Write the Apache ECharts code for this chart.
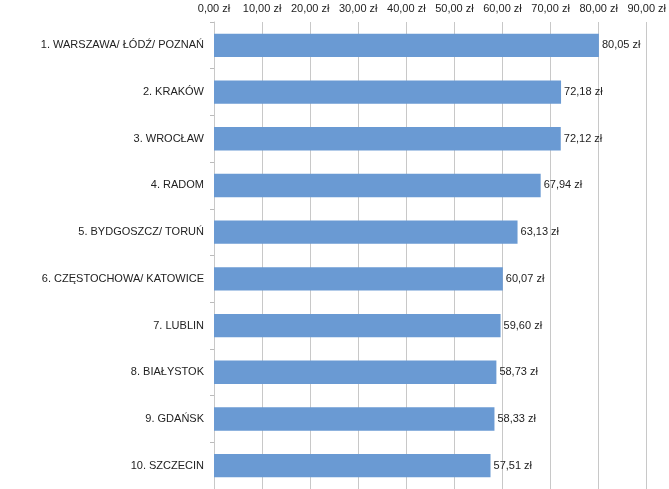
<!DOCTYPE html>
<html>
<head>
<meta charset="utf-8">
<script src="https://cdn.jsdelivr.net/npm/echarts@6/dist/echarts.min.js"></script>
<style>
  html, body { margin: 0; padding: 0; background: #fff; }
  #chart { width: 669px; height: 489px; }
</style>
</head>
<body>
<div id="chart"></div>
<script>
var categories = ['1. WARSZAWA/ ŁÓDŹ/ POZNAŃ', '2. KRAKÓW', '3. WROCŁAW', '4. RADOM', '5. BYDGOSZCZ/ TORUŃ',
  '6. CZĘSTOCHOWA/ KATOWICE', '7. LUBLIN', '8. BIAŁYSTOK', '9. GDAŃSK', '10. SZCZECIN'];
var prices = [80.05, 72.18, 72.12, 67.94, 63.13, 60.07, 59.60, 58.73, 58.33, 57.51];

// format 80.05 -> "80,05 zł"
function zl(v) {
  return v.toFixed(2).replace('.', ',') + ' zł';
}

var myChart = echarts.init(document.getElementById('chart'));
var option = {
  animation: false,
  textStyle: { fontFamily: 'Liberation Sans' },
  grid: {
    left: 214,
    right: 19,
    top: 22,
    bottom: 0
  },
  xAxis: {
    type: 'value',
    position: 'top',
    min: 0,
    max: 90,
    interval: 10,
    axisLine: { show: false },
    axisTick: { show: false },
    axisLabel: {
      color: '#222',
      fontSize: 11,
      margin: 8,
      formatter: zl
    },
    splitLine: { lineStyle: { color: '#c8c8c8', width: 1 } }
  },
  yAxis: {
    type: 'category',
    inverse: true,
    data: categories,
    axisLine: { show: true, lineStyle: { color: '#c8c8c8' } },
    axisTick: { show: true, length: 4, lineStyle: { color: '#bbb' } },
    axisLabel: { color: '#222', fontSize: 11, margin: 10 }
  },
  series: [{
    type: 'bar',
    data: prices,
    barWidth: '50%',
    itemStyle: { color: '#6a9ad3' },
    label: {
      show: true,
      position: 'right',
      distance: 3,
      color: '#222',
      fontSize: 11,
      formatter: function(p) { return zl(p.value); }
    }
  }]
};
myChart.setOption(option);
</script>
</body>
</html>
